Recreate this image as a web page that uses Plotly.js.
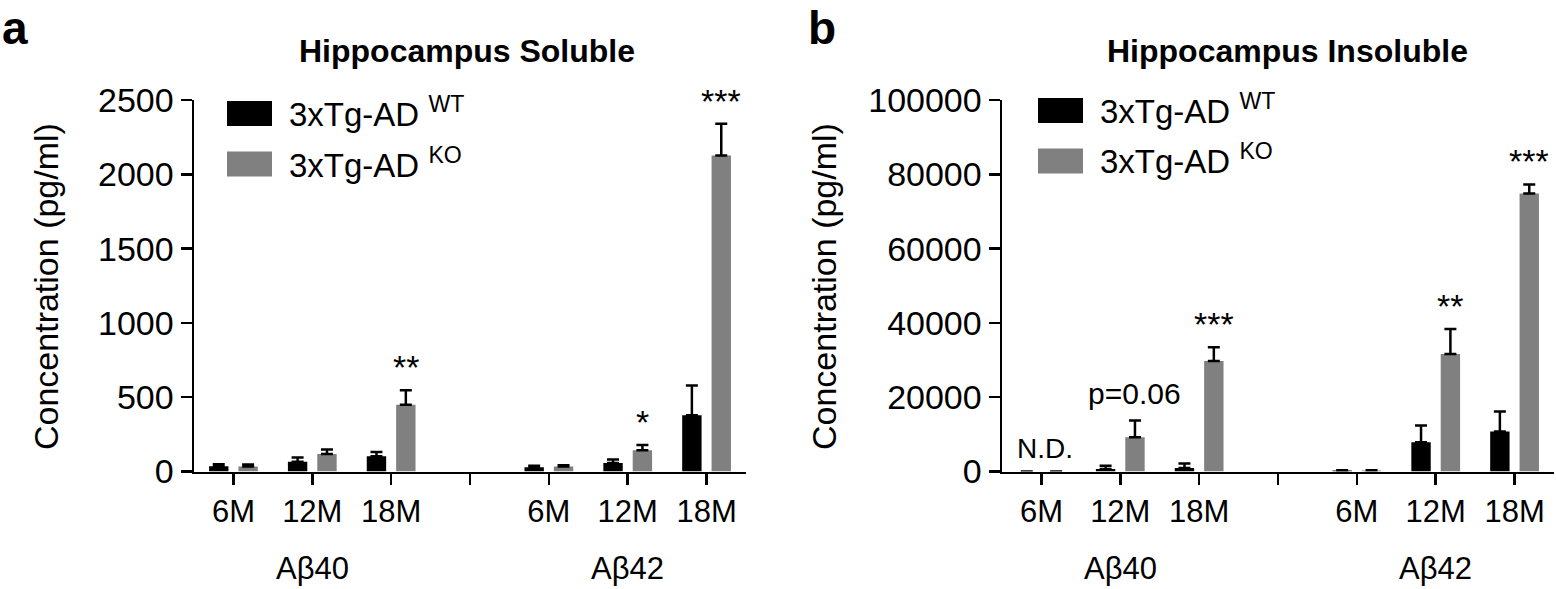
<!DOCTYPE html>
<html>
<head>
<meta charset="utf-8">
<script src="https://cdn.plot.ly/plotly-3.0.1.min.js"></script>
<style>
  html, body { margin: 0; padding: 0; background: #fff; }
</style>
</head>
<body>
<div id="plot" style="width:1556px;height:589px"></div>
<script>
// categories
var ages = ['6M', '12M', '18M'];
var peptides = ['A\u03b240', 'A\u03b242'];
var groups = ['3xTg-AD <sup>WT</sup>', '3xTg-AD <sup>KO</sup>'];

// hippocampus soluble (pg/ml), order: Ab40 6M,12M,18M then Ab42 6M,12M,18M
var solWT = [36, 65, 103, 29, 58, 379];
var solWTerr = [13, 29, 29, 9, 23, 199];
var solKO = [34, 117, 449, 34, 143, 2126];
var solKOerr = [13, 31, 97, 8, 36, 215];
var solMarks = ['', '', '**', '', '*', '***'];

// hippocampus insoluble (pg/ml)
var insWT = [0, 640, 910, 250, 7880, 10740];
var insWTerr = [0, 890, 1240, 100, 4470, 5420];
var insKO = [0, 9240, 29750, 250, 31630, 74860];
var insKOerr = [0, 4510, 3680, 100, 6710, 2420];
var insMarks = ['', 'p=0.06', '***', '', '**', '***'];

var solTicks = [0, 500, 1000, 1500, 2000, 2500];
var insTicks = [0, 20000, 40000, 60000, 80000, 100000];

var colors = ['#000000', '#808080'];
var W = 1556, H = 589;
var FONT = 'Liberation Sans, Arial, Helvetica, sans-serif';
var bargap = 0.255;
var koShift = (1 - bargap) / 4;

function px(x) { return x / W; }
function py(y) { return 1 - y / H; }

// x positions: one empty slot between the two peptides
var xpos = [];
var tickvals = [], ticktext = [];
peptides.forEach(function (p, pi) {
  ages.forEach(function (a, ai) {
    xpos.push(pi * (ages.length + 1) + ai);
  });
});
for (var i = 0; i < peptides.length * (ages.length + 1) - 1; i++) {
  tickvals.push(i);
  ticktext.push(i % (ages.length + 1) == ages.length ? ' ' : ages[i % (ages.length + 1)]);
}

function barTrace(y, err, gi, xa, ya) {
  return {
    type: 'bar',
    x: xpos,
    y: y,
    name: groups[gi],
    xaxis: xa,
    yaxis: ya,
    marker: { color: colors[gi], line: { width: 0 } },
    error_y: {
      type: 'data', symmetric: false,
      array: err, arrayminus: err.map(function () { return 0; }),
      color: '#000', thickness: 2.5, width: 6
    },
    showlegend: false,
    hoverinfo: 'x+y'
  };
}

var data = [
  barTrace(solWT, solWTerr, 0, 'x', 'y'),
  barTrace(solKO, solKOerr, 1, 'x', 'y'),
  barTrace(insWT, insWTerr, 0, 'x2', 'y2'),
  barTrace(insKO, insKOerr, 1, 'x2', 'y2')
];

function xAxis(dom, anchor) {
  return {
    domain: dom, anchor: anchor, range: [-0.5, 6.5],
    tickmode: 'array', tickvals: tickvals, ticktext: ticktext,
    ticks: 'outside', ticklen: 11, tickwidth: 2.5, tickcolor: '#000',
    showline: true, linecolor: '#000', linewidth: 2.5,
    showgrid: false, zeroline: false, fixedrange: true,
    tickfont: { family: FONT, size: 31, color: '#000' }
  };
}
function yAxis(anchor, ticks) {
  return {
    domain: [py(471.5), py(100)], anchor: anchor,
    range: [0, ticks[ticks.length - 1]],
    tickmode: 'array', tickvals: ticks, tickformat: 'd',
    ticks: 'outside', ticklen: 11, tickwidth: 2.5, tickcolor: '#000',
    showline: true, linecolor: '#000', linewidth: 2.5,
    showgrid: false, zeroline: false, fixedrange: true,
    tickfont: { family: FONT, size: 34, color: '#000' }
  };
}

var annotations = [];
var shapes = [];
function text(t, x, y, size, extra) {
  var a = {
    text: t, x: x, y: y, xref: 'paper', yref: 'paper',
    showarrow: false, xanchor: 'center', yanchor: 'middle',
    font: { family: FONT, size: size, color: '#000' }
  };
  for (var k in extra) a[k] = extra[k];
  annotations.push(a);
}

// panel letters, titles, y titles
text('<b>a</b>', px(0), py(0), 46, { xanchor: 'left', yanchor: 'top' });
text('<b>b</b>', px(806), py(0), 46, { xanchor: 'left', yanchor: 'top' });
text('<b>Hippocampus Soluble</b>', px(467), py(51), 32);
text('<b>Hippocampus Insoluble</b>', px(1287), py(51), 32);
text('Concentration (pg/ml)', px(46), py(287), 34, { textangle: -90 });
text('Concentration (pg/ml)', px(824), py(287), 34, { textangle: -90 });

// legends drawn by hand (big swatches)
[[227, 287, 101], [1038, 1098, 98]].forEach(function (L) {
  groups.forEach(function (g, gi) {
    var top = L[2] + gi * 50.5;
    shapes.push({
      type: 'rect', xref: 'paper', yref: 'paper',
      x0: px(L[0]), x1: px(L[0] + 45), y0: py(top + 25), y1: py(top),
      fillcolor: colors[gi], line: { width: 0 }
    });
    text(g, px(L[1]), py(top + 11), 33, { xanchor: 'left' });
  });
});

// peptide group labels under the age ticks
['x', 'x2'].forEach(function (xa) {
  peptides.forEach(function (p, pi) {
    annotations.push({
      text: p, x: pi * (ages.length + 1) + 1, y: py(568),
      xref: xa, yref: 'paper', showarrow: false,
      xanchor: 'center', yanchor: 'middle',
      font: { family: FONT, size: 31, color: '#000' }
    });
  });
});

// significance marks above the KO bars
function marks(list, vals, errs, xa, ya) {
  list.forEach(function (m, i) {
    if (!m) return;
    var small = m.charAt(0) == 'p';
    annotations.push({
      text: m, x: xpos[i] + koShift, y: vals[i] + errs[i],
      xref: xa, yref: ya, showarrow: false,
      xanchor: 'center', yanchor: 'bottom', yshift: small ? 8 : 2,
      font: { family: FONT, size: small ? 30 : 34, color: '#000' }
    });
  });
}
marks(solMarks, solKO, solKOerr, 'x', 'y');
marks(insMarks, insKO, insKOerr, 'x2', 'y2');
annotations.push({
  text: 'N.D.', x: xpos[0], y: 0, xref: 'x2', yref: 'y2',
  showarrow: false, xanchor: 'center', yanchor: 'bottom', yshift: 6, xshift: 4,
  font: { family: FONT, size: 28, color: '#000' }
});

var layout = {
  width: W, height: H,
  margin: { l: 0, r: 0, t: 0, b: 0 },
  paper_bgcolor: '#fff', plot_bgcolor: '#fff',
  barmode: 'group', bargap: bargap, bargroupgap: 0.34,
  font: { family: FONT, color: '#000' },
  xaxis: xAxis([px(194), px(746)], 'y'),
  yaxis: yAxis('x', solTicks),
  xaxis2: xAxis([px(1002), px(1554)], 'y2'),
  yaxis2: yAxis('x2', insTicks),
  annotations: annotations,
  shapes: shapes,
  showlegend: false
};

Plotly.newPlot('plot', data, layout, { displayModeBar: false, staticPlot: true });
</script>
</body>
</html>
